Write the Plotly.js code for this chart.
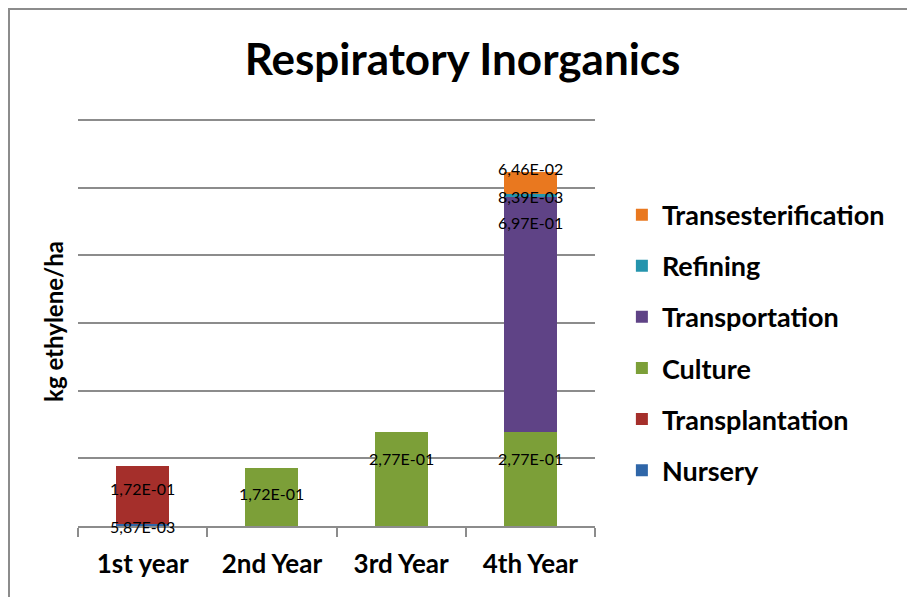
<!DOCTYPE html>
<html>
<head>
<meta charset="utf-8">
<script src="https://cdn.plot.ly/plotly-3.0.1.min.js"></script>
<style>
  html, body { margin: 0; padding: 0; background: #ffffff; }
  #frame { position: absolute; left: 8px; top: 8px; width: 1000px; height: 700px;
           border-left: 2px solid #8c8c8c; border-top: 2px solid #8c8c8c; }
  #chart { position: absolute; left: 0; top: 0; width: 907px; height: 597px; }
</style>
</head>
<body>
<div id="frame"></div>
<div id="chart"></div>
<script>
const categories = ['1st year', '2nd Year', '3rd Year', '4th Year'];
const seriesNames = ['Nursery', 'Transplantation', 'Culture', 'Transportation', 'Refining', 'Transesterification'];
const nursery = [5.87e-3, null, null, null];
const transplantation = [1.72e-1, null, null, null];
const culture = [null, 1.72e-1, 2.77e-1, 2.77e-1];
const transportation = [null, null, null, 6.97e-1];
const refining = [null, null, null, 8.39e-3];
const transesterification = [null, null, null, 6.46e-2];

const seriesValues = [nursery, transplantation, culture, transportation, refining, transesterification];
const colors = ['#2f66a8', '#a52f2b', '#7c9f38', '#5f4386', '#2594ad', '#e9781f'];
const labelShift = [-2, -23, -26, -26, -3, 3];

function fmt(v) {
  const parts = v.toExponential(2).split('e');
  const e = parseInt(parts[1], 10);
  return parts[0].replace('.', ',') + 'E' + (e < 0 ? '-' : '+') + String(Math.abs(e)).padStart(2, '0');
}

const traces = seriesNames.map((name, i) => ({
  type: 'bar',
  name: name,
  x: categories,
  y: seriesValues[i],
  marker: { color: colors[i], line: { width: 0 } },
  legendgroup: name,
  legendrank: seriesNames.length - i,
  hoverinfo: 'skip'
}));

const annotations = [];
const cum = categories.map(() => 0);
seriesValues.forEach((vals, i) => {
  vals.forEach((v, j) => {
    if (v === null) return;
    cum[j] += v;
    annotations.push({
      x: categories[j], y: cum[j], xref: 'x', yref: 'y',
      text: fmt(v), showarrow: false, yanchor: 'middle', yshift: labelShift[i],
      font: { family: 'Lato, sans-serif', size: 16, color: '#000' }
    });
  });
});

const layout = {
  width: 907, height: 597,
  paper_bgcolor: 'rgba(0,0,0,0)',
  plot_bgcolor: 'rgba(0,0,0,0)',
  margin: { l: 78, r: 312, t: 117, b: 71 },
  barmode: 'stack',
  bargap: 0.59,
  title: {
    text: 'Respiratory Inorganics',
    x: 0.51, xanchor: 'center', y: 0.9, yanchor: 'middle', yref: 'container',
    font: { family: 'Lato, sans-serif', size: 44, color: '#000', weight: 'bold' }
  },
  xaxis: {
    type: 'category',
    showgrid: false,
    showline: true, linecolor: '#8c8c8c', linewidth: 2,
    ticks: 'outside', tickson: 'boundaries', ticklen: 9, tickcolor: '#8c8c8c', tickwidth: 2,
    ticklabelstandoff: 14,
    tickfont: { family: 'Lato, sans-serif', size: 26, color: '#000', weight: 'bold' },
    fixedrange: true
  },
  yaxis: {
    range: [0, 1.209],
    dtick: 0.2,
    showgrid: true, gridcolor: '#8c8c8c', gridwidth: 2,
    zeroline: false,
    showticklabels: false,
    showline: false,
    title: {
      text: 'kg ethylene/ha', standoff: 6,
      font: { family: 'Lato, sans-serif', size: 24, color: '#000', weight: 'bold' }
    },
    fixedrange: true
  },
  legend: {
    x: 1.052, xanchor: 'left', y: 0.82, yanchor: 'top',
    traceorder: 'grouped',
    tracegroupgap: 13,
    font: { family: 'Lato, sans-serif', size: 27, color: '#000', weight: 'bold' },
    bgcolor: 'rgba(0,0,0,0)'
  },
  annotations: annotations,
  showlegend: true
};

Plotly.newPlot('chart', traces, layout, { displayModeBar: false, staticPlot: true });
</script>
</body>
</html>
